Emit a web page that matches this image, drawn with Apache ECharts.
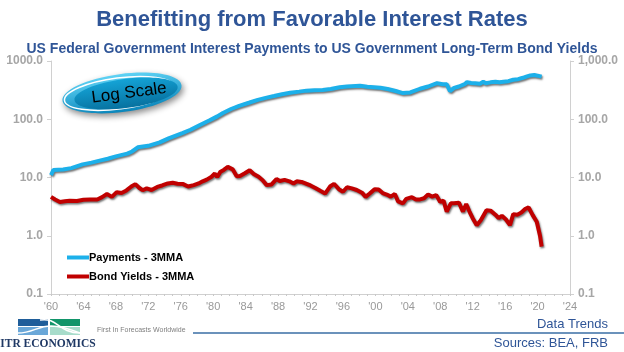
<!DOCTYPE html>
<html>
<head>
<meta charset="utf-8">
<script src="https://cdn.jsdelivr.net/npm/echarts@6/dist/echarts.min.js"></script>
<style>
html,body{margin:0;padding:0;background:#fff;}
#chart{width:624px;height:352px;}
</style>
</head>
<body>
<div id="chart"></div>
<script>
// interest payments (3MMA)
var payYears = [1960.0,1960.3,1961.5,1962.5,1963.9,1965.0,1966.0,1967.0,1968.0,1969.4,1970.0,1970.7,1972.0,1973.4,1974.5,1976.2,1977.2,1978.3,1979.5,1980.5,1981.2,1982.2,1983.2,1984.4,1985.5,1986.6,1987.5,1988.5,1989.5,1990.6,1991.5,1992.5,1993.5,1994.5,1995.6,1996.5,1998.1,1999.0,2000.6,2001.5,2002.5,2003.4,2004.3,2005.5,2006.5,2007.6,2008.3,2008.8,2009.2,2009.7,2010.3,2011.0,2011.3,2011.8,2012.3,2012.9,2013.3,2013.6,2014.2,2014.8,2015.3,2015.8,2016.4,2017.0,2017.6,2018.2,2018.7,2019.1,2019.6,2020.0,2020.5];
var payValues = [11,13.5,13.7,14.5,16.8,18,19.5,21,23,25.7,28,33,35,40,47,58,66,79,95,112,128,150,170,192,215,235,250,268,285,298,310,315,318,330,355,365,376,362,348,330,305,281,288,334,365,417,400,397,305,345,365,400,434,420,415,408,440,415,430,440,430,440,450,477,488,515,545,565,575,560,540];

// 10-year bond yields (3MMA)
var yldYears = [1960.0,1960.5,1961.1,1961.7,1962.3,1963.2,1964.0,1964.8,1965.7,1966.3,1966.9,1967.5,1968.1,1968.7,1969.3,1969.9,1970.4,1970.9,1971.3,1971.8,1972.4,1973.1,1973.7,1974.4,1975.0,1975.6,1976.3,1976.9,1977.6,1978.2,1978.7,1979.2,1979.8,1980.2,1980.5,1980.9,1981.3,1981.8,1982.4,1982.9,1983.3,1983.9,1984.5,1985.0,1985.6,1986.1,1986.6,1987.2,1987.8,1988.2,1988.8,1989.4,1989.9,1990.3,1990.9,1991.6,1992.0,1992.6,1993.2,1993.8,1994.4,1994.9,1995.5,1996.0,1996.5,1997.1,1997.7,1998.4,1998.8,1999.3,1999.9,2000.4,2000.9,2001.4,2001.9,2002.4,2002.8,2003.4,2003.8,2004.5,2005.0,2005.5,2006.0,2006.5,2007.0,2007.5,2008.0,2008.4,2008.8,2009.3,2009.7,2010.3,2010.8,2011.2,2011.6,2012.0,2012.5,2013.0,2013.7,2014.2,2014.8,2015.2,2015.6,2016.1,2016.6,2017.0,2017.5,2018.0,2018.5,2018.9,2019.4,2019.9,2020.1,2020.3,2020.5];
var yldValues = [4.65,4.2,3.8,3.9,4.0,3.95,4.15,4.2,4.2,4.6,5.2,4.65,5.6,5.4,6.0,7.0,7.7,6.6,6.05,6.5,6.1,6.9,7.3,7.9,8.1,7.8,7.7,7.0,7.4,7.9,8.6,9.2,10.3,11.7,10.2,12.6,13.5,15.2,13.8,10.5,10.6,11.8,13.3,11.5,10.3,9.0,7.4,7.6,9.4,8.7,9.1,8.6,7.9,8.6,8.4,7.7,7.3,6.6,5.9,5.3,7.0,7.8,6.3,5.7,6.8,6.5,6.1,5.4,4.65,5.3,6.3,6.2,5.4,5.1,4.7,5.2,3.9,3.6,4.3,4.6,4.2,4.2,4.4,5.1,4.7,5.0,3.8,4.0,2.6,3.6,3.6,3.7,2.6,3.5,2.6,2.0,1.52,1.85,2.75,2.7,2.3,2.0,2.2,1.9,1.52,2.35,2.3,2.5,2.9,3.06,2.26,1.74,1.7,1.0,0.65];

var seriesNames = ['Payments - 3MMA', 'Bond Yields - 3MMA'];
var xTicks = {min: 1960, max: 2024, step: 4};

function pairs(xs, ys) {
	var out = [];
	for (var i = 0; i < xs.length; i++) out.push([xs[i], ys[i]]);
	return out;
}

var grey = '#a6a6a6';
var navy = '#2f5597';
var font = 'Liberation Sans, Arial, sans-serif';

var chart = echarts.init(document.getElementById('chart'));

var axisLabelStyle = {color: grey, fontWeight: 'bold', fontSize: 12, fontFamily: font};

chart.setOption({
	animation: false,
	title: [
		{text: 'Benefitting from Favorable Interest Rates', left: 'center', top: 4,
			textStyle: {color: navy, fontSize: 22, fontWeight: 'bold', fontFamily: font}},
		{text: 'US Federal Government Interest Payments to US Government Long-Term Bond Yields', left: 'center', top: 37,
			textStyle: {color: navy, fontSize: 14, fontWeight: 'bold', fontFamily: font}}
	],
	grid: {left: 51, right: 54, top: 61, bottom: 58, containLabel: false},
	legend: {
		orient: 'vertical', left: 62, top: 247, itemGap: 8,
		itemWidth: 22, itemHeight: 4, icon: 'rect',
		textStyle: {color: '#000', fontWeight: 'bold', fontSize: 11, fontFamily: font, padding: [0, 0, 0, -5]},
		data: seriesNames
	},
	xAxis: {
		type: 'value', min: xTicks.min, max: xTicks.max, interval: xTicks.step,
		axisLine: {lineStyle: {color: '#d0d0d0'}},
		axisTick: {show: true, length: 2, lineStyle: {color: '#c8c8c8'}},
		minorTick: {show: true, splitNumber: 4, length: 2, lineStyle: {color: '#c8c8c8'}},
		splitLine: {show: false},
		axisLabel: Object.assign({}, axisLabelStyle, {fontSize: 11, fontWeight: 'normal', color: '#999', margin: 7,
			formatter: function (v) { return "'" + String(v).slice(2); }})
	},
	yAxis: [
		{
			type: 'log', logBase: 10, min: 0.1, max: 1000, position: 'left',
			axisLine: {show: true, lineStyle: {color: '#d0d0d0'}},
			axisTick: {show: true, length: 4, lineStyle: {color: '#d0d0d0'}},
			splitLine: {show: false},
			axisLabel: Object.assign({}, axisLabelStyle, {margin: 8, formatter: function (v) { return v.toFixed(1); }})
		},
		{
			type: 'log', logBase: 10, min: 0.1, max: 1000, position: 'right',
			axisLine: {show: true, lineStyle: {color: '#d0d0d0'}},
			axisTick: {show: true, length: 4, lineStyle: {color: '#d0d0d0'}},
			splitLine: {show: false},
			axisLabel: Object.assign({}, axisLabelStyle, {margin: 8, formatter: function (v) {
				return Number(v.toFixed(1)).toLocaleString('en-US', {minimumFractionDigits: 1, maximumFractionDigits: 1});
			}})
		}
	],
	series: [
		{
			name: seriesNames[0], type: 'line', showSymbol: false, symbol: 'none',
			data: pairs(payYears, payValues), color: '#1cb0ea',
			lineStyle: {width: 4, color: '#1cb0ea', shadowColor: 'rgba(0,0,0,0.55)', shadowBlur: 2, shadowOffsetX: 1, shadowOffsetY: 1.5}
		},
		{
			name: seriesNames[1], type: 'line', showSymbol: false, symbol: 'none',
			data: pairs(yldYears, yldValues), color: '#c00000',
			lineStyle: {width: 4, color: '#c00000', shadowColor: 'rgba(0,0,0,0.55)', shadowBlur: 2, shadowOffsetX: 1, shadowOffsetY: 1.5}
		}
	],
	graphic: [
		// "Log Scale" badge
		{
			type: 'group', x: 122, y: 93, rotation: 0.13, z: 100,
			children: [
				{type: 'ellipse', shape: {cx: 0, cy: 0, rx: 60, ry: 19},
					style: {fill: new echarts.graphic.LinearGradient(0, 0, 0, 1, [{offset: 0, color: '#5fd3f5'}, {offset: 1, color: '#0a86bb'}]),
						shadowColor: 'rgba(0,0,0,0.45)', shadowBlur: 6, shadowOffsetX: 2, shadowOffsetY: 3}},
				{type: 'ellipse', shape: {cx: -3, cy: 0, rx: 55, ry: 15.5},
					style: {fill: 'none', stroke: '#ffffff', lineWidth: 1.5}},
				{type: 'ellipse', shape: {cx: 4, cy: 1, rx: 52, ry: 14.5},
					style: {fill: new echarts.graphic.LinearGradient(0, 0, 0, 1, [{offset: 0, color: '#14a3d6'}, {offset: 1, color: '#07719f'}])}},
				{type: 'text', x: 7, y: 1,
					style: {text: 'Log Scale', fill: '#000', font: '17px ' + font, align: 'center', verticalAlign: 'middle'}}
			]
		},
		// footer logo
		{type: 'rect', shape: {x: 18, y: 319, width: 30, height: 7}, style: {fill: '#1f5d9a'}},
		{type: 'rect', shape: {x: 18, y: 327, width: 30, height: 8}, style: {fill: '#6aa7d8'}},
		{type: 'rect', shape: {x: 50, y: 319, width: 30, height: 7}, style: {fill: '#12956a'}},
		{type: 'rect', shape: {x: 50, y: 327, width: 30, height: 8}, style: {fill: '#a7dccb'}},
		{type: 'bezierCurve', shape: {x1: 18, y1: 333, x2: 80, y2: 333, cpx1: 40, cpy1: 333, cpx2: 40, cpy2: 317}, style: {stroke: '#ffffff', lineWidth: 1.5, fill: 'none'}},
		{type: 'bezierCurve', shape: {x1: 40, y1: 320, x2: 80, y2: 333, cpx1: 58, cpy1: 317, cpx2: 58, cpy2: 333}, style: {stroke: '#ffffff', lineWidth: 1.5, fill: 'none'}},
		{type: 'text', x: 48, y: 338, style: {text: 'ITR ECONOMICS', fill: '#1f3864', font: 'bold 11.5px "Liberation Serif", "DejaVu Serif", serif', align: 'center', verticalAlign: 'top'}},
		{type: 'text', x: 97, y: 330, style: {text: 'First In Forecasts Worldwide', fill: '#7f7f7f', font: '7px ' + font, align: 'left', verticalAlign: 'middle'}},
		{type: 'line', shape: {x1: 193, y1: 333, x2: 624, y2: 333}, style: {stroke: '#3a6ea5', lineWidth: 1.5}},
		{type: 'text', x: 608, y: 324, style: {text: 'Data Trends', fill: navy, font: '13px ' + font, align: 'right', verticalAlign: 'middle'}},
		{type: 'text', x: 608, y: 343, style: {text: 'Sources: BEA, FRB', fill: navy, font: '13px ' + font, align: 'right', verticalAlign: 'middle'}}
	]
});
</script>
</body>
</html>
